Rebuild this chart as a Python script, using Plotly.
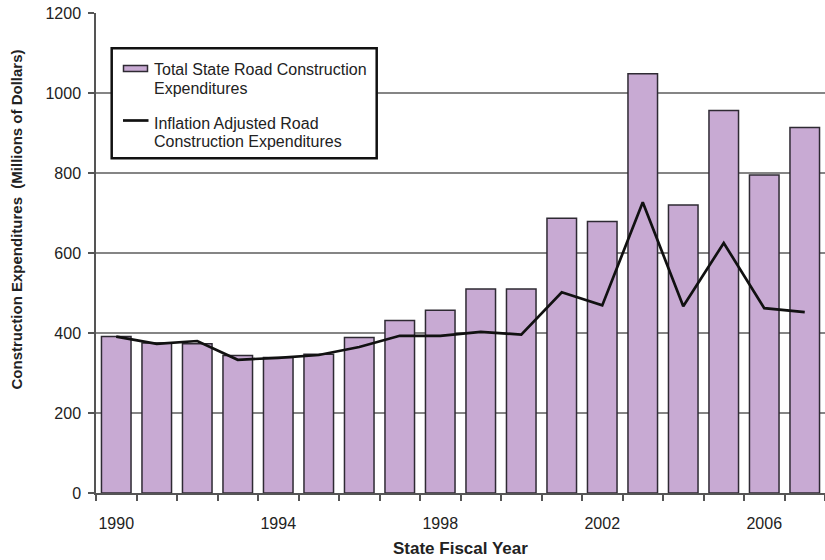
import plotly.graph_objects as go

years = list(range(1990, 2008))
total_exp = [391, 375, 373, 344, 339, 347, 389, 431, 457, 510, 510, 687, 679, 1048, 720, 956, 795, 914]
inflation_adj = [391, 373, 380, 333, 338, 345, 365, 393, 393, 403, 396, 502, 469, 727, 467, 625, 462, 452]
tick_years = [1990, 1994, 1998, 2002, 2006]
y_ticks = [0, 200, 400, 600, 800, 1000, 1200]
legend_bar_lines = ["Total State Road Construction", "Expenditures"]
legend_line_lines = ["Inflation Adjusted Road", "Construction Expenditures"]

FONT = "Liberation Sans, Arial, sans-serif"
BAR_COLOR = "#c8aad3"
BAR_EDGE = "#2e2a33"
TXT = "#222222"

# plot area in pixels (for placing the legend box / titles)
L, R, T, B = 96, 825, 13, 493
def px(x):
    return (x - L) / (R - L)
def py(y):
    return 1 - (y - T) / (B - T)

fig = go.Figure()
fig.add_trace(go.Bar(
    x=years, y=total_exp, name=" ".join(legend_bar_lines),
    marker=dict(color=BAR_COLOR, line=dict(color=BAR_EDGE, width=1.5)),
))
fig.add_trace(go.Scatter(
    x=years, y=inflation_adj, mode="lines", name=" ".join(legend_line_lines),
    line=dict(color="#111111", width=2.7),
))

shapes = [
    # legend frame
    dict(type="rect", xref="paper", yref="paper",
         x0=px(111.7), x1=px(376.7), y0=py(48.3), y1=py(158.3),
         line=dict(color="#111111", width=2.5), fillcolor="white", layer="above"),
    # bar swatch
    dict(type="rect", xref="paper", yref="paper",
         x0=px(123.5), x1=px(147.5), y0=py(65.5), y1=py(71.5),
         line=dict(color=BAR_EDGE, width=1.5), fillcolor=BAR_COLOR, layer="above"),
    # line swatch
    dict(type="line", xref="paper", yref="paper",
         x0=px(123), x1=px(148.5), y0=py(120.5), y1=py(120.5),
         line=dict(color="#111111", width=2.7), layer="above"),
]

annotations = [
    dict(text="<b>Construction Expenditures  (Millions of Dollars)</b>",
         xref="paper", yref="paper", x=px(16), y=py(219.5),
         xanchor="center", yanchor="middle", textangle=-90, showarrow=False,
         font=dict(family=FONT, size=15, color=TXT)),
    dict(text="<b>State Fiscal Year</b>",
         xref="paper", yref="paper", x=px(460.5), y=py(548),
         xanchor="center", yanchor="middle", showarrow=False,
         font=dict(family=FONT, size=17, color=TXT)),
]
for txt, yy in zip(legend_bar_lines + legend_line_lines, [69, 88.3, 123.3, 141.7]):
    annotations.append(dict(
        text=txt, xref="paper", yref="paper", x=px(151.5), y=py(yy),
        xanchor="left", yanchor="middle", showarrow=False,
        font=dict(family=FONT, size=16, color=TXT)))

fig.update_layout(
    width=825, height=560,
    margin=dict(l=L, r=0, t=T, b=560 - B),
    paper_bgcolor="white", plot_bgcolor="white",
    bargap=0.27,
    font=dict(family=FONT, size=16, color=TXT),
    showlegend=False,
    xaxis=dict(
        range=[1989.5, 2007.5],
        tickmode="array", tickvals=tick_years, ticktext=[str(t) for t in tick_years],
        ticks="", ticklabelstandoff=15,
        showline=True, linecolor="#555555", linewidth=1.5,
        showgrid=False, zeroline=False,
        minor=dict(tick0=1989.5, dtick=1, ticks="outside", ticklen=6,
                   tickwidth=1.5, tickcolor="#555555", showgrid=False),
        tickfont=dict(size=16, family=FONT, color=TXT),
    ),
    yaxis=dict(
        range=[0, 1200],
        tickmode="array", tickvals=y_ticks,
        ticks="outside", ticklen=6, tickwidth=1.5, tickcolor="#555555",
        ticklabelstandoff=4,
        showline=True, linecolor="#555555", linewidth=1.5,
        showgrid=True, gridcolor="#858585", gridwidth=1.5,
        zeroline=False,
        tickfont=dict(size=16, family=FONT, color=TXT),
    ),
    shapes=shapes,
    annotations=annotations,
)

fig.write_html("out.html")
